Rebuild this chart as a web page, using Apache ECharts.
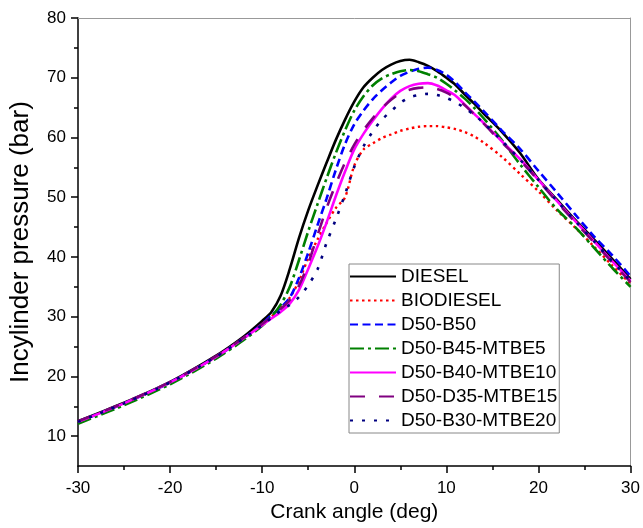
<!DOCTYPE html>
<html><head><meta charset="utf-8">
<script src="https://cdn.jsdelivr.net/npm/echarts@6/dist/echarts.min.js"></script>
<style>html,body{margin:0;padding:0;background:#fff}#c{width:643px;height:528px}</style>
</head><body><div id="c"></div>
<script>
const crankAngle = [-30,-25,-20,-15,-12,-10,-9,-8,-7,-6,-5,-4,-3,-2,-1,0,1,2,3,4,5,6,7,8,9,10,11,12,13,14,16,18,20,22,24,26,28,30];
const diesel    = [12.5,15.6,19.1,23.5,26.7,29.3,30.8,33.5,38.0,43.2,47.8,51.9,55.8,59.6,63.0,66.0,68.4,70.0,71.3,72.2,72.8,73.0,72.6,72.0,71.1,70.0,68.8,67.2,65.7,64.1,61.0,57.4,53.0,49.6,46.2,43.0,39.7,36.3];
const biodiesel = [12.4,15.5,19.0,23.3,26.4,28.7,30.0,31.4,33.2,36.0,39.8,42.9,45.7,48.2,50.0,55.3,58.0,59.0,59.9,60.5,61.1,61.5,61.8,61.9,61.9,61.7,61.4,60.9,60.2,59.2,56.8,53.9,51.0,47.8,44.9,41.8,38.6,35.5];
const d50b50    = [12.4,15.5,19.0,23.3,26.4,28.8,30.3,31.5,33.2,36.5,40.7,45.3,49.8,54.6,58.9,62.2,64.5,66.4,67.9,69.2,70.3,71.0,71.5,71.7,71.3,70.5,69.2,67.6,66.1,64.5,61.2,58.1,54.4,50.8,47.1,43.5,40.3,36.8];
const d50b45m5  = [12.1,15.2,18.7,23.0,26.1,28.5,30.0,32.0,35.0,39.5,44.3,48.8,53.2,57.4,61.2,64.5,66.9,68.7,69.9,70.6,71.1,71.3,71.1,70.6,70.0,69.0,67.8,66.5,65.0,63.3,59.6,55.5,51.7,48.0,45.0,41.6,38.2,35.0];
const d50b40m10 = [12.4,15.5,19.0,23.3,26.4,28.6,29.7,30.8,32.2,34.5,38.0,41.7,45.8,50.2,54.3,58.0,60.6,62.8,64.8,66.5,67.8,68.6,69.0,69.1,68.7,67.9,67.0,65.5,64.0,62.5,59.4,56.4,52.9,49.4,46.0,42.7,39.3,36.0];
const d50d35m15 = [12.5,15.6,19.1,23.4,26.5,28.8,30.0,31.3,32.8,35.2,38.9,43.6,48.2,52.2,55.8,58.8,61.2,63.2,64.9,66.3,67.4,68.0,68.3,68.4,68.1,67.5,66.6,65.4,63.9,62.4,59.2,56.2,52.8,49.2,45.8,42.5,39.1,35.8];
const d50b30m20 = [12.4,15.5,19.0,23.3,26.4,28.6,29.8,31.0,32.0,33.3,35.3,37.9,42.4,46.3,50.5,55.1,58.5,61.0,63.0,64.4,65.8,66.7,67.1,67.3,67.1,66.6,65.9,64.9,63.8,62.5,59.5,56.3,52.9,49.4,46.0,42.7,39.3,36.0];
const seriesNames = ['DIESEL','BIODIESEL','D50-B50','D50-B45-MTBE5','D50-B40-MTBE10','D50-D35-MTBE15','D50-B30-MTBE20'];
const yTicks = [10,20,30,40,50,60,70,80];
const yMinorTicks = [15,25,35,45,55,65,75];
const xTitle = 'Crank angle (deg)';
const yTitle = 'Incylinder pressure (bar)';

const values = [diesel, biodiesel, d50b50, d50b45m5, d50b40m10, d50d35m15, d50b30m20];
const styles = [
  {color:'#000000', width:2.6, type:'solid'},
  {color:'#ff0000', width:2.4, type:[2.5,3.5]},
  {color:'#0000ff', width:2.6, type:[8,4.5]},
  {color:'#008000', width:2.6, type:[14,4,3,4]},
  {color:'#ff00ff', width:2.6, type:'solid'},
  {color:'#800080', width:2.6, type:[15,14]},
  {color:'#000080', width:2.6, type:[3,9]}
];
const FONT = 'Liberation Sans, Arial, sans-serif';
const chart = echarts.init(document.getElementById('c'), null, {renderer:'canvas'});
chart.setOption({
  backgroundColor:'#fff',
  animation:false,
  grid:{left:78, right:11, top:18, bottom:55},
  legend:{
    orient:'vertical', left:349, top:264,
    itemWidth:46, itemHeight:12, itemGap:5,
    padding:[3,2,3,0],
    borderColor:'#888', borderWidth:1,
    itemStyle:{color:'rgba(0,0,0,0)', borderColor:'rgba(0,0,0,0)', borderWidth:0},
    textStyle:{fontSize:19, color:'#000', fontFamily:FONT},
    data:seriesNames
  },
  xAxis:[{
    type:'value', min:-30, max:30, interval:10,
    name:xTitle, nameLocation:'middle', nameGap:33,
    nameTextStyle:{fontSize:21, color:'#000', fontFamily:FONT},
    axisLine:{show:true, onZero:false, lineStyle:{color:'#000', width:1.5}},
    axisTick:{show:true, length:7, lineStyle:{color:'#000', width:1.5}},
    minorTick:{show:true, splitNumber:2, length:4, lineStyle:{color:'#000', width:1.5}},
    axisLabel:{fontSize:17, color:'#000', fontFamily:FONT, margin:14},
    splitLine:{show:false}
  },{
    type:'value', min:-30, max:30, position:'top',
    axisLine:{show:true, onZero:false, lineStyle:{color:'#999', width:1}},
    axisTick:{show:false}, axisLabel:{show:false}, splitLine:{show:false}
  }],
  yAxis:[{
    type:'value', min:5, max:80,
    name:yTitle, nameLocation:'middle', nameGap:44, nameRotate:90,
    nameTextStyle:{fontSize:26, color:'#000', fontFamily:FONT},
    axisLine:{show:true, onZero:false, lineStyle:{color:'#000', width:1.5}},
    axisTick:{show:true, length:7, customValues:yTicks, lineStyle:{color:'#000', width:1.5}},
    axisLabel:{fontSize:17, color:'#000', fontFamily:FONT, margin:12, customValues:yTicks},
    splitLine:{show:false}
  },{
    type:'value', min:5, max:80, position:'left',
    axisLine:{show:false, onZero:false},
    axisTick:{show:true, length:4, customValues:yMinorTicks, lineStyle:{color:'#000', width:1.5}},
    axisLabel:{show:false, customValues:yMinorTicks}, splitLine:{show:false}
  },{
    type:'value', min:5, max:80, position:'right',
    axisLine:{show:true, onZero:false, lineStyle:{color:'#999', width:1}},
    axisTick:{show:false}, axisLabel:{show:false}, splitLine:{show:false}
  }],
  series: seriesNames.map((n,i)=>({
    name:n, type:'line', xAxisIndex:0, yAxisIndex:0,
    smooth:0.3, symbol:'none',
    lineStyle:{color:styles[i].color, width:styles[i].width, type:styles[i].type},
    itemStyle:{color:styles[i].color},
    data: crankAngle.map((x,k)=>[x, values[i][k]])
  }))
});
</script></body></html>
